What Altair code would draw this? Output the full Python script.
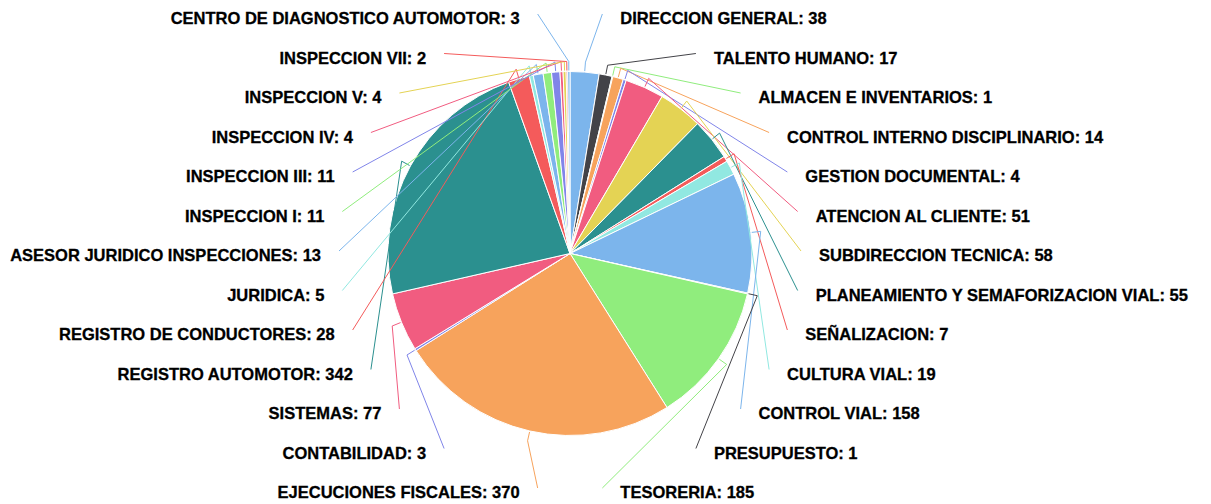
import altair as alt
import pandas as pd

# ---------------- data ----------------
names = [
    "DIRECCION GENERAL", "TALENTO HUMANO", "ALMACEN E INVENTARIOS",
    "CONTROL INTERNO DISCIPLINARIO", "GESTION DOCUMENTAL", "ATENCION AL CLIENTE",
    "SUBDIRECCION TECNICA", "PLANEAMIENTO Y SEMAFORIZACION VIAL", "SEÑALIZACION",
    "CULTURA VIAL", "CONTROL VIAL", "PRESUPUESTO", "TESORERIA",
    "EJECUCIONES FISCALES", "CONTABILIDAD", "SISTEMAS", "REGISTRO AUTOMOTOR",
    "REGISTRO DE CONDUCTORES", "JURIDICA", "ASESOR JURIDICO INSPECCIONES",
    "INSPECCION I", "INSPECCION III", "INSPECCION IV", "INSPECCION V",
    "INSPECCION VII", "CENTRO DE DIAGNOSTICO AUTOMOTOR",
]
values = [38, 17, 1, 14, 4, 51, 58, 55, 7, 19, 158, 1, 185,
          370, 3, 77, 342, 28, 5, 13, 11, 11, 4, 4, 2, 3]
colors = [
    "#7cb5ec", "#434348", "#90ed7d", "#f7a35c", "#8085e9", "#f15c80",
    "#e4d354", "#2b908f", "#f45b5b", "#91e8e1", "#7cb5ec", "#434348",
    "#90ed7d", "#f7a35c", "#8085e9", "#f15c80", "#2b908f", "#f45b5b",
    "#91e8e1", "#7cb5ec", "#90ed7d", "#8085e9", "#f15c80", "#e4d354",
    "#f45b5b", "#7cb5ec",
]

df = pd.DataFrame({"name": names, "value": values, "idx": list(range(len(names)))})

# ---------------- layout constants ----------------
W, H = 1195, 496
CX, CY = 562, 245.5          # pie centre (px)
R = 182                      # pie radius (px)
ROW0, STEP = 11.0, 39.5      # label rows
A_LAB, B_LAB = 249, 242      # label curve
GAP = 18

xscale = alt.Scale(domain=[-CX, W - CX], nice=False, zero=False)
yscale = alt.Scale(domain=[-(H - CY), CY], nice=False, zero=False)
cscale = alt.Scale(domain=names, range=colors)

base = (
    alt.Chart(df)
    .transform_joinaggregate(total="sum(value)")
    .transform_window(cum="sum(value)", sort=[alt.SortField("idx")], frame=[None, 0])
    .transform_calculate(mid="(datum.cum - datum.value / 2) / datum.total * 2 * PI")
    .transform_calculate(side="datum.mid < PI ? 1 : -1")
    .transform_calculate(sortkey="datum.side * datum.mid")
    .transform_window(slot="row_number()", groupby=["side"], sort=[alt.SortField("sortkey")])
    .transform_joinaggregate(nside="count()", groupby=["side"])
    .transform_calculate(
        dy=f"(datum.slot - 1 - (datum.nside - 1) / 2) * {STEP}",
        ly=f"{CY} - {ROW0} - (datum.slot - 1) * {STEP}",
        label="datum.name + ': ' + datum.value",
        zero="0",
    )
    .transform_calculate(
        lx=f"datum.side * {A_LAB} * sqrt(max(0, 1 - pow(datum.dy / {B_LAB}, 2)))",
        ex=f"{R + 1} * sin(datum.mid)",
        ey=f"{R + 1} * cos(datum.mid)",
        bx=f"{R + 10} * sin(datum.mid)",
        by=f"{R + 10} * cos(datum.mid)",
    )
    .transform_calculate(
        tx=f"datum.lx - datum.side * {GAP}",
        ty="datum.ly + 5",
    )
)

pie = base.mark_arc(radius=R, stroke="white", strokeWidth=1).encode(
    theta=alt.Theta("value:Q", stack=True),
    color=alt.Color("name:N", scale=cscale, legend=None),
    order=alt.Order("idx:Q"),
    x=alt.X("zero:Q", scale=xscale, axis=None),
    y=alt.Y("zero:Q", scale=yscale, axis=None),
)

lines = (
    base.transform_fold(["ex", "bx", "tx"], as_=["k", "xv"])
    .transform_calculate(
        yv="datum.k == 'ex' ? datum.ey : (datum.k == 'bx' ? datum.by : datum.ty)",
        ordv="datum.k == 'ex' ? 0 : (datum.k == 'bx' ? 1 : 2)",
    )
    .mark_line(strokeWidth=1)
    .encode(
        x=alt.X("xv:Q", scale=xscale, axis=None),
        y=alt.Y("yv:Q", scale=yscale, axis=None),
        color=alt.Color("name:N", scale=cscale, legend=None),
        detail="name:N",
        order="ordv:Q",
    )
)

text_style = dict(font="Liberation Sans", fontSize=16.5, fontWeight="bold",
                  color="#000000", baseline="middle", stroke="#000000",
                  strokeWidth=0.3)

right_text = base.transform_filter("datum.side == 1").mark_text(align="left", **text_style).encode(
    x=alt.X("lx:Q", scale=xscale, axis=None),
    y=alt.Y("ly:Q", scale=yscale, axis=None),
    text="label:N",
)
left_text = base.transform_filter("datum.side == -1").mark_text(align="right", **text_style).encode(
    x=alt.X("lx:Q", scale=xscale, axis=None),
    y=alt.Y("ly:Q", scale=yscale, axis=None),
    text="label:N",
)

chart = (
    alt.layer(pie, lines, right_text, left_text)
    .properties(width=W, height=H, padding=0, autosize="none", background="white")
    .configure_view(stroke=None)
)

chart.save("out.html", embed_options={"renderer": "svg", "actions": False})
